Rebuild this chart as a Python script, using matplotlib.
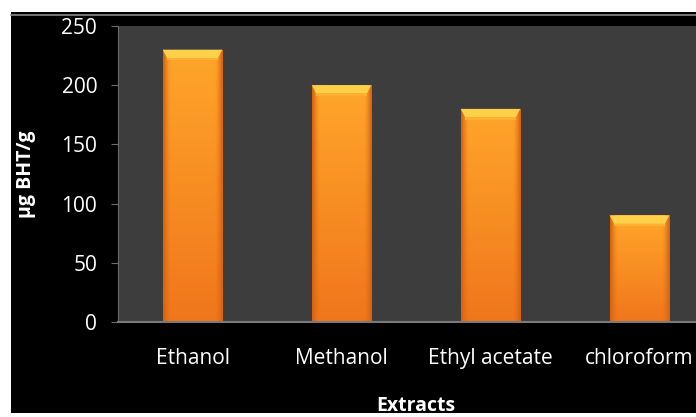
import numpy as np
import matplotlib.pyplot as plt
from matplotlib.patches import Rectangle, Polygon
from matplotlib.colors import to_rgb

categories = ["Ethanol", "Methanol", "Ethyl acetate", "chloroform"]
values = [230, 200, 180, 90]
yticks = [0, 50, 100, 150, 200, 250]

plt.rcParams['font.family'] = ['Open Sans', 'DejaVu Sans']

fig = plt.figure(figsize=(6.96, 4.17), dpi=100)
fig.patch.set_facecolor('white')

# black chart frame
bg = Rectangle((11 / 696, 4 / 417), 1, 401 / 417, transform=fig.transFigure,
               facecolor='black', edgecolor='none', zorder=-10)
fig.patches.append(bg)
fig.add_artist(plt.Line2D([11 / 696, 1], [402 / 417, 402 / 417], color='#8a8a8a', lw=1.2, zorder=-9))

ax = fig.add_axes([118 / 696, 95 / 417, 596 / 696, 296 / 417])
ax.set_facecolor('#3d3d3d')

x = np.arange(len(categories))
width = 0.40
bars = ax.bar(x, values, width, color='#f7931e', edgecolor='none', zorder=2)

# gradient fill for each bar
top = np.array(to_rgb('#ffa62a'))
bot = np.array(to_rgb('#f0761c'))
edge = np.array(to_rgb('#d9640f'))
ny, nx = 100, 40
t = np.linspace(0, 1, ny)[:, None, None]
base = top * (1 - t) + bot * t
s = np.abs(np.linspace(-1, 1, nx))[None, :, None]
w = np.clip((s - 0.75) / 0.25, 0, 1) ** 1.5
img = base * (1 - w) + edge * w
for b in bars:
    b.set_facecolor('none')
    x0, y0, bw, bh = b.get_x(), b.get_y(), b.get_width(), b.get_height()
    im = ax.imshow(img, extent=(x0, x0 + bw, y0, y0 + bh), aspect='auto',
                   origin='upper', zorder=2, interpolation='bilinear')
    im.set_clip_path(b)
    # bevel on top
    d = 7
    ax.add_patch(Polygon([(x0, y0 + bh), (x0 + bw, y0 + bh),
                          (x0 + bw - 0.03, y0 + bh - d), (x0 + 0.03, y0 + bh - d)],
                         closed=True, facecolor='#ffd04a', edgecolor='none', zorder=3))
    ax.add_patch(Polygon([(x0 + 0.03, y0 + bh - d), (x0 + bw - 0.03, y0 + bh - d),
                          (x0 + bw - 0.03, y0 + bh - d - 2), (x0 + 0.03, y0 + bh - d - 2)],
                         closed=True, facecolor='#ffb030', edgecolor='none', zorder=3))

ax.set_xlim(-0.5, len(categories) - 0.5)
ax.set_ylim(0, 250)
ax.set_yticks(yticks)
ax.set_xticks(x)
ax.set_xticklabels(categories)

for sp in ['top', 'right']:
    ax.spines[sp].set_visible(False)
ax.spines['left'].set_color('#6a6a6a')
ax.spines['bottom'].set_color('#7a7a7a')
ax.spines['bottom'].set_linewidth(1.5)

ax.tick_params(axis='y', colors='#6a6a6a', labelcolor='white', length=5, pad=10, labelsize=15)
ax.tick_params(axis='x', length=0, pad=19, labelcolor='white', labelsize=15)

ax.set_ylabel('µg BHT/g', color='white', fontsize=14, fontweight='bold')
ax.yaxis.set_label_coords(-0.138, 0.5)
ax.set_xlabel('Extracts', color='white', fontsize=14, fontweight='bold')
ax.xaxis.set_label_coords(0.5, -0.25)

# white strip cutting the bottom
fig.add_artist(Rectangle((0, 0), 1, 4 / 417, transform=fig.transFigure,
                         facecolor='white', edgecolor='none', zorder=10))

fig.savefig('out.png', dpi=100)
